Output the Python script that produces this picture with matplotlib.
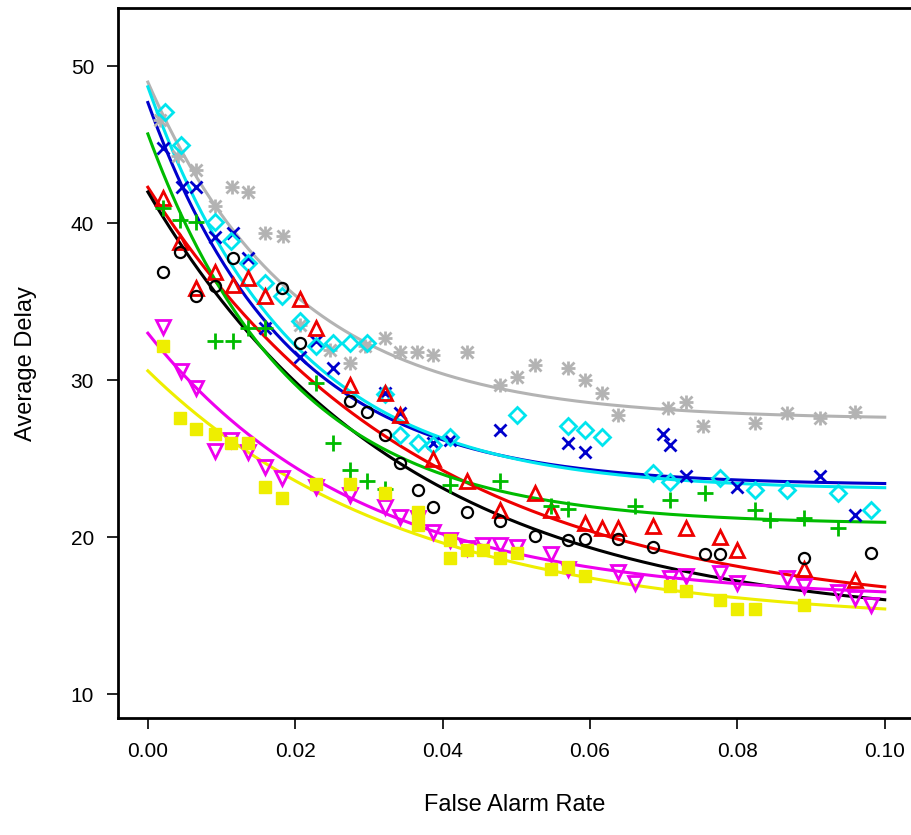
import numpy as np
import matplotlib.pyplot as plt

plt.rcParams['font.family'] = ['Liberation Sans', 'DejaVu Sans']

# scatter data: (false alarm rate, average delay)
gray_x = [0.0016,0.0041,0.0066,0.0091,0.0114,0.0136,0.0159,0.0183,0.0206,0.0247,0.0274,0.0294,0.0322,0.0342,0.0365,0.0387,0.0433,0.0478,0.0501,0.0525,0.0570,0.0593,0.0616,0.0638,0.0706,0.0730,0.0753,0.0824,0.0868,0.0912,0.0959]
gray_y = [46.6,44.3,43.4,41.1,42.3,42.0,39.4,39.2,33.5,31.9,31.1,32.2,32.7,31.8,31.8,31.6,31.8,29.7,30.2,31.0,30.8,30.0,29.2,27.8,28.2,28.6,27.1,27.3,27.9,27.6,28.0]

blue_x = [0.0020,0.0046,0.0066,0.0091,0.0115,0.0136,0.0159,0.0206,0.0228,0.0251,0.0322,0.0342,0.0387,0.0410,0.0478,0.0570,0.0593,0.0699,0.0708,0.0730,0.0799,0.0912,0.0959]
blue_y = [44.8,42.3,42.3,39.1,39.4,37.8,33.3,31.5,32.5,30.8,29.2,27.9,26.0,26.2,26.8,26.0,25.4,26.6,25.9,23.9,23.2,23.9,21.4]

cyan_x = [0.0023,0.0045,0.0091,0.0113,0.0136,0.0159,0.0182,0.0206,0.0228,0.0251,0.0274,0.0297,0.0322,0.0342,0.0366,0.0387,0.0410,0.0501,0.0570,0.0593,0.0616,0.0685,0.0708,0.0776,0.0824,0.0868,0.0936,0.0982]
cyan_y = [47.1,45.0,40.1,38.9,37.5,36.2,35.4,33.8,32.2,32.4,32.4,32.4,29.1,26.5,26.0,25.9,26.4,27.8,27.1,26.8,26.4,24.1,23.5,23.8,23.0,23.0,22.8,21.7]

red_x = [0.0020,0.0043,0.0066,0.0091,0.0115,0.0136,0.0159,0.0206,0.0228,0.0274,0.0322,0.0342,0.0387,0.0433,0.0478,0.0525,0.0547,0.0593,0.0616,0.0638,0.0685,0.0730,0.0776,0.0799,0.0890,0.0959]
red_y = [41.6,38.8,35.9,36.9,36.1,36.5,35.4,35.2,33.3,29.7,29.2,27.8,25.0,23.6,21.7,22.8,21.7,20.9,20.6,20.6,20.7,20.6,20.0,19.2,18.0,17.3]

black_x = [0.0020,0.0043,0.0066,0.0091,0.0115,0.0182,0.0206,0.0274,0.0297,0.0322,0.0342,0.0366,0.0387,0.0433,0.0478,0.0525,0.0570,0.0593,0.0638,0.0685,0.0756,0.0776,0.0890,0.0982]
black_y = [36.9,38.2,35.4,36.0,37.8,35.9,32.4,28.7,28.0,26.5,24.7,23.0,21.9,21.6,21.0,20.1,19.8,19.9,19.9,19.4,18.9,18.9,18.7,19.0]

green_x = [0.0020,0.0043,0.0066,0.0091,0.0115,0.0136,0.0159,0.0228,0.0251,0.0274,0.0297,0.0322,0.0410,0.0478,0.0547,0.0570,0.0661,0.0708,0.0756,0.0824,0.0844,0.0890,0.0936]
green_y = [41.0,40.2,40.1,32.5,32.5,33.3,33.3,29.8,26.0,24.3,23.6,23.1,23.3,23.6,22.0,21.8,22.0,22.4,22.8,21.7,21.1,21.2,20.6]

magenta_x = [0.0020,0.0045,0.0066,0.0091,0.0113,0.0136,0.0159,0.0182,0.0228,0.0274,0.0322,0.0342,0.0366,0.0387,0.0410,0.0433,0.0455,0.0478,0.0501,0.0547,0.0570,0.0638,0.0661,0.0708,0.0730,0.0776,0.0799,0.0868,0.0890,0.0936,0.0959,0.0982]
magenta_y = [33.4,30.6,29.5,25.5,26.2,25.4,24.5,23.8,23.2,22.7,21.9,21.3,21.2,20.3,19.8,19.3,19.5,19.5,19.4,18.9,18.0,17.8,17.1,17.4,17.5,17.7,17.1,17.4,16.9,16.5,16.1,15.7]

yellow_x = [0.0020,0.0043,0.0066,0.0091,0.0113,0.0136,0.0159,0.0182,0.0228,0.0274,0.0322,0.0366,0.0366,0.0410,0.0410,0.0433,0.0455,0.0478,0.0501,0.0547,0.0570,0.0593,0.0708,0.0730,0.0776,0.0799,0.0824,0.0890]
yellow_y = [32.2,27.6,26.9,26.6,26.0,26.0,23.2,22.5,23.4,23.4,22.8,21.6,20.8,19.8,18.7,19.2,19.2,18.7,19.0,18.0,18.1,17.5,16.9,16.6,16.0,15.4,15.4,15.7]

# fitted curves: delay = a + b*exp(-far/c)
fits = {
    'gray':    (27.5, 21.5, 0.0200, '#b3b3b3'),
    'blue':    (23.3, 24.4, 0.0188, '#0000cc'),
    'cyan':    (23.0, 25.7, 0.0195, '#00e5ee'),
    'red':     (15.0, 27.3, 0.0370, '#ee0000'),
    'black':   (14.5, 27.5, 0.0345, '#000000'),
    'green':   (20.8, 24.9, 0.0195, '#00bb00'),
    'magenta': (16.0, 17.0, 0.0286, '#ee00ee'),
    'yellow':  (14.5, 16.1, 0.0350, '#eeee00'),
}

fig = plt.figure(figsize=(9.12, 8.35), dpi=100)
ax = fig.add_axes([0.129, 0.140, 0.871, 0.850])

xx = np.linspace(0, 0.1, 300)
for name, (a, b, c, col) in fits.items():
    ax.plot(xx, a + b*np.exp(-xx/c), color=col, lw=2.2, zorder=2)

ms = 9
mw = 2
ax.plot(gray_x, gray_y, '+', color='#b3b3b3', ms=ms+1, mew=mw, ls='none')
ax.plot(gray_x, gray_y, 'x', color='#b3b3b3', ms=ms-1, mew=mw, ls='none')
ax.plot(blue_x, blue_y, 'x', color='#0000cc', ms=ms, mew=mw, ls='none')
ax.plot(cyan_x, cyan_y, 'D', mfc='none', mec='#00e5ee', ms=ms-1, mew=mw, ls='none')
ax.plot(red_x, red_y, '^', mfc='none', mec='#ee0000', ms=ms+1, mew=mw, ls='none')
ax.plot(black_x, black_y, 'o', mfc='none', mec='#000000', ms=ms-1, mew=1.6, ls='none')
ax.plot(green_x, green_y, '+', color='#00bb00', ms=ms+2, mew=mw, ls='none')
ax.plot(magenta_x, magenta_y, 'v', mfc='none', mec='#ee00ee', ms=ms+1, mew=mw, ls='none')
ax.plot(yellow_x, yellow_y, 's', color='#eeee00', ms=ms-1, ls='none')

ax.set_xlim(-0.0041, 0.1037)
ax.set_ylim(8.47, 53.7)
ax.set_xticks([0.0, 0.02, 0.04, 0.06, 0.08, 0.10])
ax.set_xticklabels(['0.00', '0.02', '0.04', '0.06', '0.08', '0.10'])
ax.set_yticks([10, 20, 30, 40, 50])
ax.tick_params(direction='out', length=8, width=1.2, labelsize=15, pad=9)
for s in ax.spines.values():
    s.set_linewidth(2)
ax.set_xlabel('False Alarm Rate', fontsize=17, labelpad=24)
ax.set_ylabel('Average Delay', fontsize=17, labelpad=24)

plt.savefig('out.png', dpi=100)
